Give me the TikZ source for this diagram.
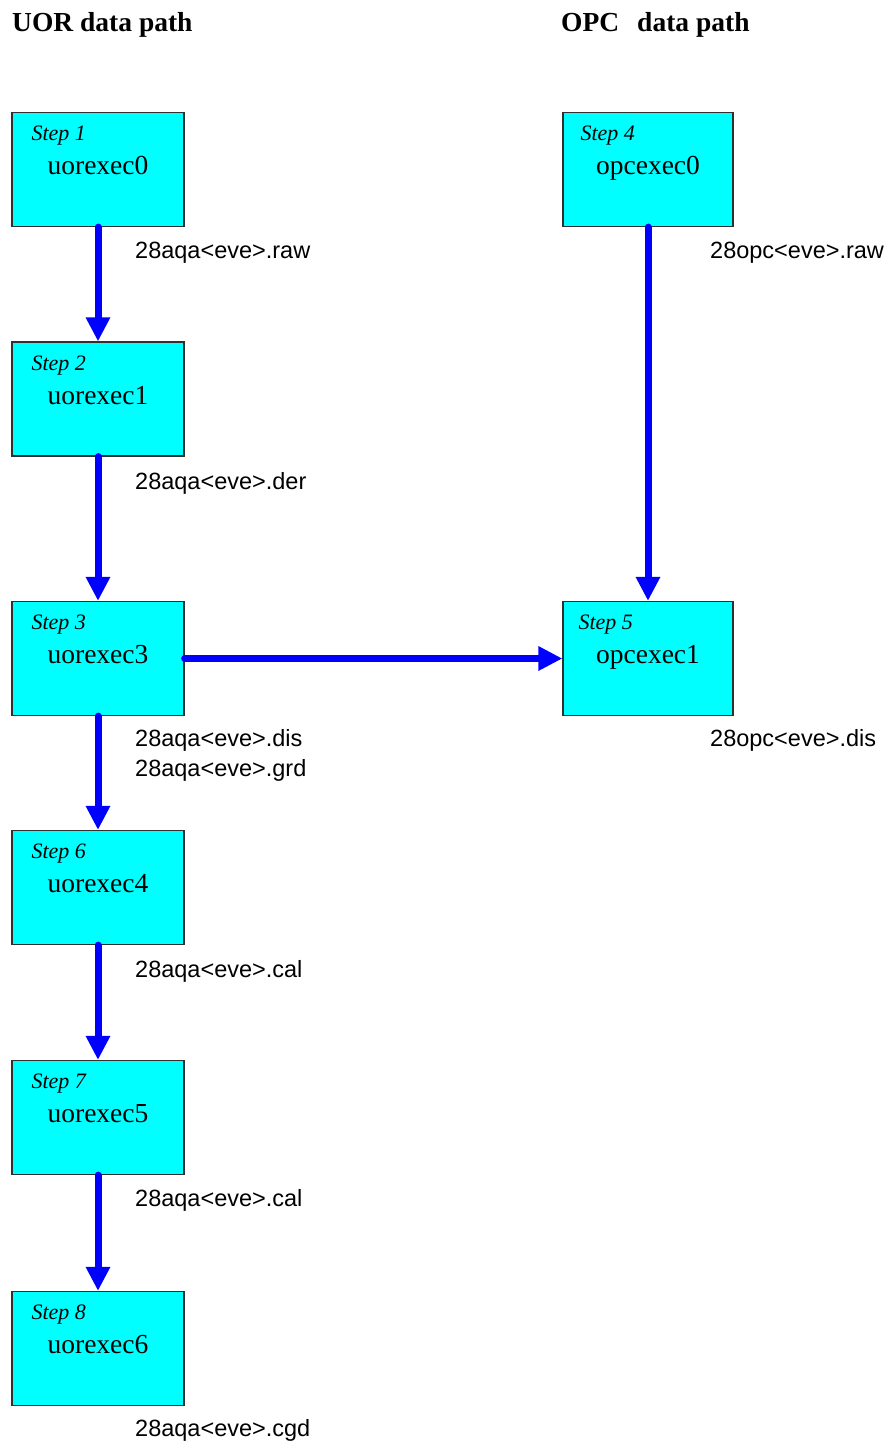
\documentclass[tikz,border=0pt]{standalone}
\usepackage{fontspec}
\setmainfont{Liberation Serif}
\newfontfamily\labelfont{Liberation Sans}
\usetikzlibrary{arrows.meta}
\definecolor{boxfill}{HTML}{00FFFF}
\definecolor{flowblue}{HTML}{0000FF}
\definecolor{boxline}{HTML}{303030}
\tikzset{
  stepbox/.style={draw=boxline, line width=1.2pt, fill=boxfill, inner sep=0pt,
    minimum height=114pt},
  leftbox/.style={stepbox, minimum width=172pt},
  rightbox/.style={stepbox, minimum width=170pt},
  steptag/.style={anchor=base west, inner sep=0pt,
    font=\fontsize{22}{24}\selectfont\itshape},
  progname/.style={anchor=base, inner sep=0pt,
    font=\fontsize{27.5}{30}\selectfont},
  filelbl/.style={anchor=base west, inner sep=0pt,
    font=\labelfont\fontsize{23.5}{26}\selectfont},
  coltitle/.style={anchor=base west, inner sep=0pt,
    font=\fontsize{27.5}{30}\selectfont\bfseries},
  flow/.style={draw=flowblue, line width=7pt, line cap=round,
    -{Triangle[width=23pt,length=24pt]}},
}
\begin{document}
\begin{tikzpicture}[x=1pt, y=-1pt]
\useasboundingbox (0,0) rectangle (892,1442);

% column titles
\node[coltitle] (t1) at (12,32) {UOR data path};
\node[coltitle] (t2) at (561,32) {OPC\hspace{18pt}data path};

% UOR boxes
\node[leftbox] (s1) at (98,169.5) {};
\node[leftbox] (s2) at (98,399) {};
\node[leftbox] (s3) at (98,658.5) {};
\node[leftbox] (s6) at (98,887.5) {};
\node[leftbox] (s7) at (98,1117.5) {};
\node[leftbox] (s8) at (98,1348.5) {};
% OPC boxes
\node[rightbox] (s4) at (648,169.5) {};
\node[rightbox] (s5) at (648,658.5) {};

% box texts
\foreach \b/\n/\p/\dx in {s1/1/uorexec0/20, s2/2/uorexec1/20, s3/3/uorexec3/20,
    s6/6/uorexec4/20, s7/7/uorexec5/20, s8/8/uorexec6/20,
    s4/4/opcexec0/18, s5/5/opcexec1/16}{
  \node[steptag] (\b tag) at ([shift={(\dx pt,-29pt)}]\b.north west) {Step \n};
  \node[progname] (\b name) at ([shift={(0pt,-63pt)}]\b.north) {\p};
}

% connectors
\draw[flow] (s1.south) -- (s2.north);
\draw[flow] (s2.south) -- (s3.north);
\draw[flow] (s3.south) -- (s6.north);
\draw[flow] (s6.south) -- (s7.north);
\draw[flow] (s7.south) -- (s8.north);
\draw[flow] (s4.south) -- (s5.north);
\draw[flow] (s3.east) -- (s5.west);

% file names
\node[filelbl] (f1) at (135,258) {28aqa<eve>.raw};
\node[filelbl] (f2) at (135,489) {28aqa<eve>.der};
\node[filelbl] (f3) at (135,746) {28aqa<eve>.dis};
\node[filelbl] (f3b) at (135,776) {28aqa<eve>.grd};
\node[filelbl] (f6) at (135,977) {28aqa<eve>.cal};
\node[filelbl] (f7) at (135,1206) {28aqa<eve>.cal};
\node[filelbl] (f8) at (135,1436) {28aqa<eve>.cgd};
\node[filelbl] (f4) at (710,258) {28opc<eve>.raw};
\node[filelbl] (f5) at (710,746) {28opc<eve>.dis};
\end{tikzpicture}
\end{document}
